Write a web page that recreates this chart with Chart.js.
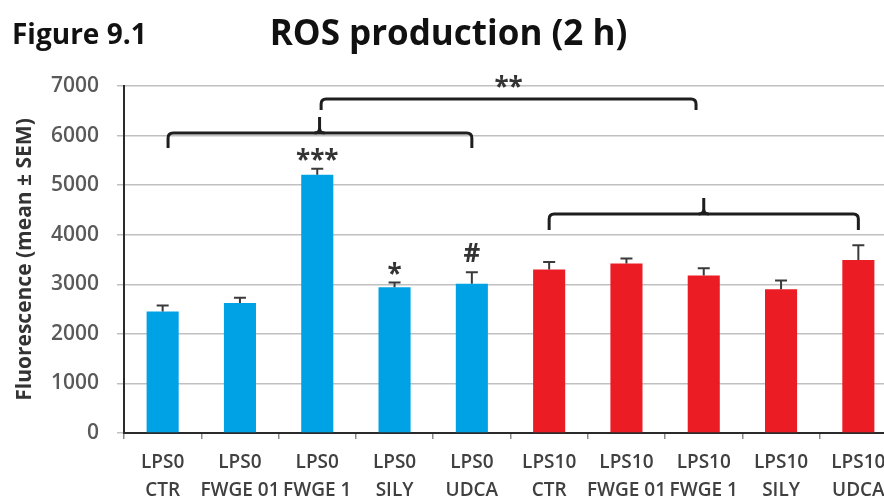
<!DOCTYPE html>
<html>
<head>
<meta charset="utf-8">
<script src="https://cdn.jsdelivr.net/npm/chart.js@4/dist/chart.umd.min.js"></script>
<style>
  html, body { margin: 0; padding: 0; background: #fff; overflow: hidden; }
  #wrap { width: 900px; height: 503px; }
</style>
</head>
<body>
<div id="wrap"><canvas id="c" width="900" height="503"></canvas></div>
<script>
// Groups: LPS dose and treatment for each bar
const lpsDose   = ['LPS0', 'LPS0', 'LPS0', 'LPS0', 'LPS0', 'LPS10', 'LPS10', 'LPS10', 'LPS10', 'LPS10'];
const treatment = ['CTR', 'FWGE 01', 'FWGE 1', 'SILY', 'UDCA', 'CTR', 'FWGE 01', 'FWGE 1', 'SILY', 'UDCA'];

// Fluorescence, mean and SEM
const meanFluor = [2450, 2620, 5210, 2940, 3010, 3300, 3420, 3175, 2900, 3490];
const semFluor  = [120, 110, 120, 95, 235, 150, 100, 150, 175, 295];

const yTicks = [0, 1000, 2000, 3000, 4000, 5000, 6000, 7000];

// Significance marks above single bars
const markCats  = [2, 3, 4];
const markTexts = ['***', '*', '#'];

// Comparison brackets (category span, bar level, tip level, optional peak)
const bracketFrom  = [0.07, 2.05, 5];
const bracketTo    = [4, 6.9, 9];
const bracketLevel = [6050, 6740, 4420];
const bracketTip   = [5750, 6515, 4095];
const bracketPeakX = [2.03, null, 7];
const bracketPeakY = [6375, null, 4740];
const bracketText  = [null, '**', null];

const BLUE = '#00a2e6';
const RED  = '#ec1c24';

Chart.defaults.font.family = '"Open Sans", sans-serif';

const labels = lpsDose.map((d, i) => [d, treatment[i]]);
const colors = lpsDose.map(d => d === 'LPS0' ? BLUE : RED);

const errorBars = {
  id: 'errorBars',
  afterDatasetsDraw(chart) {
    const ctx = chart.ctx;
    const y = chart.scales.y;
    const meta = chart.getDatasetMeta(0);
    ctx.save();
    ctx.strokeStyle = '#3a3a3a';
    ctx.lineWidth = 2;
    meta.data.forEach((bar, i) => {
      const yTop = y.getPixelForValue(meanFluor[i] + semFluor[i]);
      ctx.beginPath();
      ctx.moveTo(bar.x, bar.y);
      ctx.lineTo(bar.x, yTop);
      ctx.moveTo(bar.x - 6, yTop);
      ctx.lineTo(bar.x + 6, yTop);
      ctx.stroke();
    });
    ctx.restore();
  }
};

const annotations = {
  id: 'annotations',
  afterDraw(chart) {
    const ctx = chart.ctx;
    const x = chart.scales.x;
    const y = chart.scales.y;
    ctx.save();
    // figure number
    ctx.fillStyle = '#111';
    ctx.font = 'bold 28px "Open Sans", sans-serif';
    ctx.textAlign = 'left';
    ctx.textBaseline = 'alphabetic';
    ctx.fillText('Figure 9.1', 12, 44);

    // marks over bars
    ctx.fillStyle = '#333';
    ctx.textAlign = 'center';
    markCats.forEach((c, k) => {
      const top = y.getPixelForValue(meanFluor[c] + semFluor[c]);
      const t = markTexts[k];
      ctx.font = 'bold 26px "Open Sans", sans-serif';
      const gap = t === '#' ? 10 : 0;
      ctx.fillText(t, x.getPixelForValue(c), top - gap);
    });

    // brackets
    ctx.strokeStyle = '#1e1e1e';
    ctx.lineWidth = 3;
    ctx.lineJoin = 'round';
    const r = 5;
    bracketFrom.forEach((f, k) => {
      const x1 = x.getPixelForValue(f);
      const x2 = x.getPixelForValue(bracketTo[k]);
      const yH = y.getPixelForValue(bracketLevel[k]);
      const yT = y.getPixelForValue(bracketTip[k]);
      ctx.beginPath();
      ctx.moveTo(x1, yT);
      ctx.lineTo(x1, yH + r);
      ctx.quadraticCurveTo(x1, yH, x1 + r, yH);
      ctx.lineTo(x2 - r, yH);
      ctx.quadraticCurveTo(x2, yH, x2, yH + r);
      ctx.lineTo(x2, yT);
      ctx.stroke();
      if (bracketPeakX[k] !== null) {
        const xp = x.getPixelForValue(bracketPeakX[k]);
        const yp = y.getPixelForValue(bracketPeakY[k]);
        ctx.beginPath();
        ctx.moveTo(xp - 5, yH);
        ctx.quadraticCurveTo(xp, yH, xp, yH - 5);
        ctx.lineTo(xp, yp);
        ctx.moveTo(xp + 5, yH);
        ctx.quadraticCurveTo(xp, yH, xp, yH - 5);
        ctx.stroke();
      }
      if (bracketText[k]) {
        ctx.font = 'bold 26px "Open Sans", sans-serif';
        ctx.fillText(bracketText[k], (x1 + x2) / 2, yH - 3);
      }
    });
    ctx.restore();
  }
};

new Chart(document.getElementById('c'), {
  type: 'bar',
  data: {
    labels: labels,
    datasets: [{
      data: meanFluor,
      backgroundColor: colors,
      borderWidth: 0,
      categoryPercentage: 1,
      barPercentage: 0.415
    }]
  },
  options: {
    responsive: false,
    animation: false,
    layout: { padding: { left: 0, right: 3, top: 0, bottom: 0 } },
    plugins: {
      legend: { display: false },
      tooltip: { enabled: false },
      title: {
        display: true,
        text: 'ROS production (2 h)',
        color: '#111',
        font: { size: 35, weight: 'bold', lineHeight: 1.2 },
        padding: { top: 14, bottom: 30 }
      }
    },
    scales: {
      x: {
        afterFit(s) { s.height = 70; },
        grid: { drawOnChartArea: false, drawTicks: true, tickLength: 6, color: '#8a8a8a', lineWidth: 1.5 },
        border: { color: '#2a2a2a', width: 2 },
        ticks: {
          color: '#404040',
          font: { size: 19, weight: 600, lineHeight: 1.45 },
          padding: 10,
          maxRotation: 0,
          autoSkip: false
        }
      },
      y: {
        min: 0,
        max: 7000,
        afterFit(s) { s.width = 124; },
        afterBuildTicks(s) { s.ticks = yTicks.map(v => ({ value: v })); },
        grid: { color: '#c0c0c0', lineWidth: 1.5, tickLength: 7 },
        border: { color: '#2a2a2a', width: 2 },
        ticks: {
          color: '#595959',
          font: { size: 21, weight: 600 },
          padding: 18,
          callback: v => String(v)
        },
        title: {
          display: true,
          text: 'Fluorescence (mean ± SEM)',
          color: '#333',
          font: { size: 21, weight: 'bold', lineHeight: 1.2 },
          padding: { top: 12, bottom: 0 }
        }
      }
    }
  },
  plugins: [errorBars, annotations]
});
</script>
</body>
</html>
